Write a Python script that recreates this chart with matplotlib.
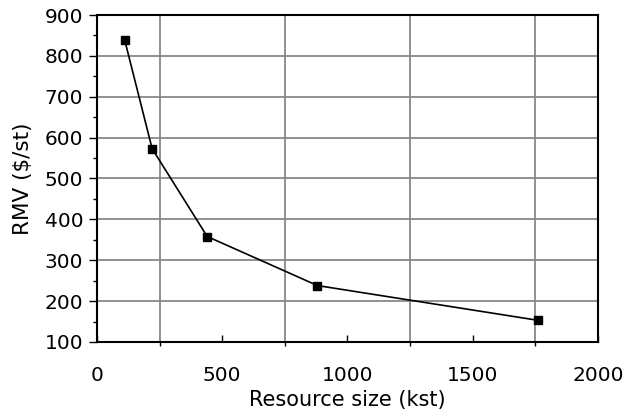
import matplotlib.pyplot as plt
from matplotlib.ticker import MultipleLocator

# datos
tamano_recurso = [110, 220, 440, 880, 1760]
rmv = [840, 573, 358, 238, 153]

plt.rcParams['font.family'] = ['DejaVu Sans']


def main():
    fig = plt.figure(figsize=(6.26, 4.17), dpi=100)
    ax = fig.add_axes([0.155, 0.180, 0.800, 0.784])

    ax.plot(tamano_recurso, rmv, color='black', linewidth=1.2,
            marker='s', markersize=6, zorder=3)

    ax.set_xlim(0, 2000)
    ax.set_ylim(100, 900)

    ax.xaxis.set_major_locator(MultipleLocator(500))
    ax.xaxis.set_minor_locator(MultipleLocator(250))
    ax.yaxis.set_major_locator(MultipleLocator(100))
    ax.yaxis.set_minor_locator(MultipleLocator(50))

    # rejilla vertical en 250, 750, ... y horizontal cada 100
    ax.grid(True, which='minor', axis='x', color='#888888', linewidth=1.3)
    ax.grid(True, which='major', axis='y', color='#888888', linewidth=1.3)
    ax.grid(False, which='major', axis='x')
    ax.set_axisbelow(True)

    ax.tick_params(axis='x', which='major', direction='in', length=5,
                   width=1, labelsize=14.5, pad=17)
    ax.tick_params(axis='x', which='minor', direction='out', length=3, width=1)
    ax.tick_params(axis='y', which='major', direction='out', length=6,
                   width=1, labelsize=14.5, pad=4)
    ax.tick_params(axis='y', which='minor', direction='out', length=3, width=1)

    for lado in ax.spines.values():
        lado.set_linewidth(1.5)
        lado.set_color('black')

    ax.set_xlabel('Resource size (kst)', fontsize=15, labelpad=4)
    ax.set_ylabel('RMV ($/st)', fontsize=15.5, labelpad=8)

    fig.savefig('out.png', dpi=100)


if __name__ == '__main__':
    main()
